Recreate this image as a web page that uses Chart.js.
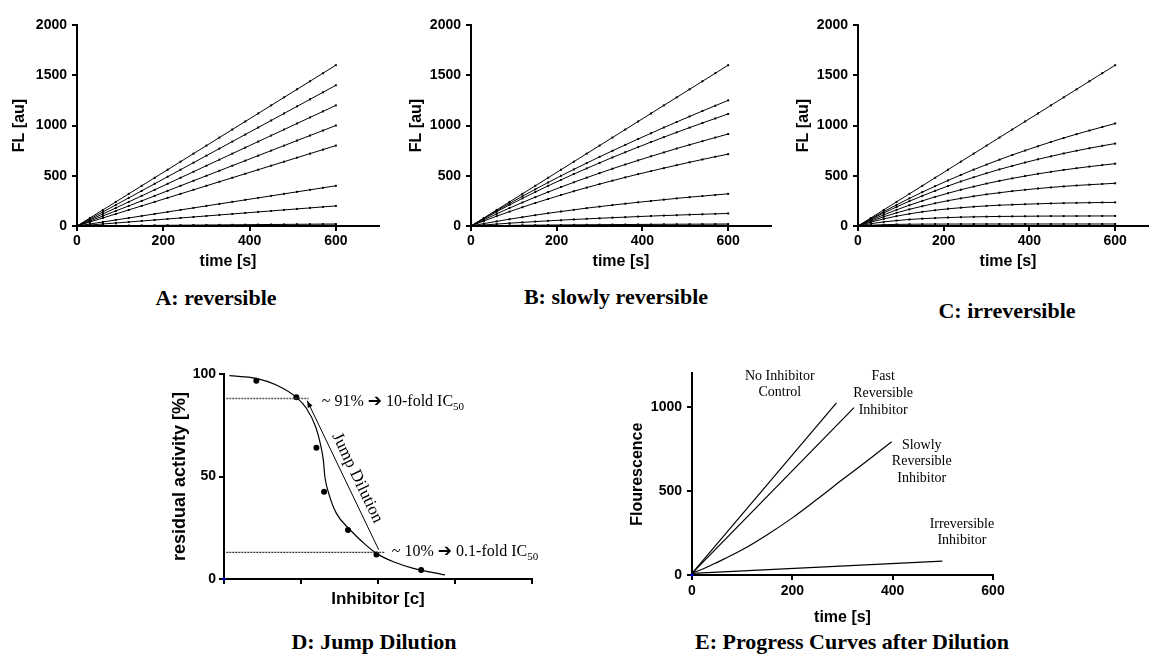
<!DOCTYPE html>
<html><head><meta charset="utf-8">
<script src="https://cdn.jsdelivr.net/npm/chart.js@4.4.1/dist/chart.umd.min.js"></script>
<style>
html,body{margin:0;padding:0;background:#fff;width:1149px;height:655px;overflow:hidden;position:relative}
canvas{position:absolute}
.cap{position:absolute;font:bold 22px "Liberation Serif","Times New Roman",serif;line-height:1.2;white-space:nowrap;transform:translateX(-50%);color:#000}
</style></head><body>
<canvas id="cA" width="385" height="272" style="left:0px;top:0px"></canvas>
<canvas id="cB" width="380" height="272" style="left:397px;top:0px"></canvas>
<canvas id="cC" width="380" height="272" style="left:784px;top:0px"></canvas>
<canvas id="cD" width="395" height="250" style="left:169px;top:360px"></canvas>
<canvas id="cE" width="380" height="268" style="left:628px;top:360px"></canvas>
<div class="cap" style="left:216px;top:285px">A: reversible</div>
<div class="cap" style="left:616px;top:284px">B: slowly reversible</div>
<div class="cap" style="left:1007px;top:298px">C: irreversible</div>
<div class="cap" style="left:374px;top:629px">D: Jump Dilution</div>
<div class="cap" style="left:852px;top:629px">E: Progress Curves after Dilution</div>
<script>
// ---------- DATA ----------
const timeS = [0,30,60,90,120,150,180,210,240,270,300,330,360,390,420,450,480,510,540,570,600];

// A: reversible
const A1 = [0,80,160,240,320,400,480,560,640,720,800,880,960,1040,1120,1200,1280,1360,1440,1520,1600];
const A2 = [0,70,140,210,280,350,420,490,560,630,700,770,840,910,980,1050,1120,1190,1260,1330,1400];
const A3 = [0,60,120,180,240,300,360,420,480,540,600,660,720,780,840,900,960,1020,1080,1140,1200];
const A4 = [0,50,100,150,200,250,300,350,400,450,500,550,600,650,700,750,800,850,900,950,1000];
const A5 = [0,40,80,120,160,200,240,280,320,360,400,440,480,520,560,600,640,680,720,760,800];
const A6 = [0,20,40,60,80,100,120,140,160,180,200,220,240,260,280,300,320,340,360,380,400];
const A7 = [0,10,20,30,40,50,60,70,80,90,100,110,120,130,140,150,160,170,180,190,200];
const A8 = [0,1,2,3,4,5,6,7,8,9,10,11,12,13,14,15,16,17,18,19,20];
const A9 = [0,0.4,0.8,1.2,1.6,2,2.4,2.8,3.2,3.6,4,4.4,4.8,5.2,5.6,6,6.4,6.8,7.2,7.6,8];

// B: slowly reversible
const B1 = [0,80,160,240,320,400,480,560,640,720,800,880,960,1040,1120,1200,1280,1360,1440,1520,1600];
const B2 = [0,77,152,225,296,365,433,499,563,626,688,748,807,866,923,980,1035,1090,1144,1197,1250];
const B3 = [0,72,142,210,275,338,400,459,517,573,628,682,734,785,835,884,932,979,1025,1070,1115];
const B4 = [0,62,121,179,234,287,338,387,435,481,526,570,612,653,693,732,771,808,844,880,915];
const B5 = [0,50,98,143,187,229,269,308,346,382,417,451,484,516,546,576,605,634,662,689,715];
const B6 = [0,24,46,68,88,108,127,144,161,178,193,208,222,236,249,262,275,287,298,309,320];
const B7 = [0,10,19,28,36,44,51,58,65,71,77,83,88,94,99,104,108,113,117,121,125];
const B8 = [0,2,4,5.5,7,8.3,9.5,10.6,11.6,12.5,13.3,14.1,14.8,15.5,16.2,16.9,17.6,18.2,18.8,19.4,20];
const B9 = [0,1,1.8,2.5,3,3.5,3.9,4.3,4.7,5,5.3,5.6,5.9,6.2,6.5,6.8,7.1,7.3,7.6,7.8,8];

// C: irreversible
const C1 = [0,80,160,240,320,400,480,560,640,720,800,880,960,1040,1120,1200,1280,1360,1440,1520,1600];
const C2 = [0,73,143,210,275,337,396,453,508,561,611,660,707,751,794,836,876,914,950,985,1020];
const C3 = [0,67,130,190,247,300,350,398,443,485,525,563,598,632,664,693,722,749,774,798,820];
const C4 = [0,58,111,161,207,250,290,326,361,392,422,449,474,497,519,539,558,575,591,606,620];
const C5 = [0,48,92,131,166,197,226,252,275,296,315,331,347,360,373,384,394,403,411,418,425];
const C6 = [0,39,71,98,121,141,157,171,182,192,200,207,212,217,221,225,228,230,232,234,235];
const C7 = [0,23,41,54,65,73,79,84,88,91,93,95,96,97,98,99,99,99.5,99.7,99.9,100];
const C8 = [0,8,13,16,17.5,18.5,19,19.3,19.5,19.7,19.8,19.9,19.9,20,20,20,20,20,20,20,20];
const C9 = [0,2,3.5,4.2,4.6,4.8,4.9,5,5,5,5,5,5,5,5,5,5,5,5,5,5];

const fluorTicks = [0,500,1000,1500,2000];
const timeTicks = [0,200,400,600];

// D: jump dilution
const dDoseX = [0.42,0.94,1.20,1.30,1.61,1.98,2.56];
const dDoseY = [96.7,88.6,64.0,42.6,23.9,12.0,4.4];
const dCurveX = [0.07,0.42,0.68,0.94,1.07,1.19,1.25,1.29,1.31,1.36,1.46,1.64,1.81,1.98,2.20,2.46,2.87];
const dCurveY = [99.2,97.9,94.6,88.6,83.3,74.3,66.2,58.0,49.9,41.8,32.0,23.9,17.7,12.5,8.4,5.2,2.0];
const dHiX = [0.03,1.10], dHiY = [88,88];
const dLoX = [0.03,2.09], dLoY = [13,13];
const dJumpX = [1.08,2.01], dJumpY = [87.0,14.2];
const dTicksX = [0,1,2,3,4];
const dTicksY = [0,50,100];

// E: progress curves after dilution
const eNoInhX = [0,288], eNoInhY = [10,1025];
const eFastX = [0,323], eFastY = [10,996];
const eSlowX = [0,25,50,100,150,200,250,300,350,398];
const eSlowY = [12,40,75,150,240,340,452,568,682,793];
const eIrrX = [0,499], eIrrY = [10,83];
const eTicksY = [0,500,1000];

// ---------- STYLE ----------
const BLACK = '#000';
const sans = '"Liberation Sans", Arial, sans-serif';
const serif = '"Liberation Serif", "Times New Roman", serif';
const tickFont = {family:sans, size:14, weight:'bold'};

function axis(o){
  return {
    type:'linear', min:o.min, max:o.max,
    ticks:{color:BLACK, font:tickFont, padding:o.pad, maxRotation:0, autoSkip:false,
           callback:(v)=> o.noLabels ? '' : String(v)},
    afterBuildTicks:(s)=>{ s.ticks = o.tickVals.map(v => ({value:v})); },
    grid:{display:true, drawOnChartArea:false, drawTicks:true, tickLength:5, color:BLACK, lineWidth:2},
    border:{display:true, color:BLACK, width:2},
    title:{display:!!o.title, text:o.title, color:BLACK,
           font:{family:sans, size:o.titleSize || 16, weight:'bold'},
           padding:o.titlePad || {top:0,bottom:0}},
    afterFit:(s)=>{ if(o.w!=null) s.width = o.w; if(o.h!=null) s.height = o.h; }
  };
}

function xy(xs, ys){ return xs.map((x,i)=>({x:x, y:ys[i]})); }

function kinetic(arrs, smooth){
  return arrs.map(a => ({
    data: xy(timeS, a), borderColor:BLACK, borderWidth:1,
    pointRadius:1.4, pointStyle:'rect', pointBackgroundColor:BLACK, pointBorderWidth:0,
    tension: smooth ? 0.4 : 0, cubicInterpolationMode: smooth ? 'monotone' : 'default', clip:4
  }));
}

function baseOpts(padding, scales){
  return {responsive:false, animation:false, devicePixelRatio:1, events:[],
    layout:{padding:padding},
    plugins:{legend:{display:false}, tooltip:{enabled:false}, title:{display:false}},
    scales:scales};
}

function kineticChart(id, arrs, smooth, yW){
  new Chart(document.getElementById(id), {
    type:'line',
    data:{datasets: kinetic(arrs, smooth)},
    options: baseOpts({top:25, right:6, left:0, bottom:0}, {
      x: axis({min:0, max:700, tickVals:timeTicks, pad:2, h:46, title:'time [s]', titlePad:{top:0,bottom:1}}),
      y: axis({min:0, max:2000, tickVals:fluorTicks, pad:5, w:yW, title:'FL [au]', titlePad:{top:10,bottom:0}})
    })
  });
}

kineticChart('cA', [A1,A2,A3,A4,A5,A6,A7,A8,A9], false, 77);
kineticChart('cB', [B1,B2,B3,B4,B5,B6,B7,B8,B9], true, 74);
kineticChart('cC', [C1,C2,C3,C4,C5,C6,C7,C8,C9], true, 74);

// ---------- D ----------
const dNotes = [
  {x:1.27, y:84.4, parts:[{t:'~ 91% '},{t:'\u2794',arrow:true},{t:' 10-fold IC'},{t:'50',sub:true}]},
  {x:2.18, y:11.2, parts:[{t:'~ 10% '},{t:'\u2794',arrow:true},{t:' 0.1-fold IC'},{t:'50',sub:true}]}
];
const dRotLabel = {x:1.73, y:49.3, text:'Jump Dilution'};

const dPlugin = {
  id:'dNotes',
  afterDatasetsDraw(chart){
    const {ctx, scales:{x,y}} = chart;
    ctx.save();
    const x0 = x.getPixelForValue(dJumpX[0]), y0 = y.getPixelForValue(dJumpY[0]);
    const x1 = x.getPixelForValue(dJumpX[1]), y1 = y.getPixelForValue(dJumpY[1]);
    const ang = Math.atan2(y0-y1, x0-x1);
    const L = 7, W = 2.6;
    ctx.fillStyle = BLACK;
    ctx.beginPath();
    ctx.moveTo(x0, y0);
    ctx.lineTo(x0 - L*Math.cos(ang) + W*Math.sin(ang), y0 - L*Math.sin(ang) - W*Math.cos(ang));
    ctx.lineTo(x0 - L*Math.cos(ang) - W*Math.sin(ang), y0 - L*Math.sin(ang) + W*Math.cos(ang));
    ctx.closePath(); ctx.fill();

    ctx.textBaseline = 'alphabetic'; ctx.textAlign = 'left';
    dNotes.forEach(n => {
      let px = x.getPixelForValue(n.x); const py = y.getPixelForValue(n.y);
      n.parts.forEach(p => {
        if (p.arrow) ctx.font = 'bold 17px "DejaVu Sans", sans-serif';
        else ctx.font = (p.sub ? 11 : 16) + 'px ' + serif;
        ctx.fillText(p.t, px, py + (p.sub ? 4 : 0));
        px += ctx.measureText(p.t).width;
      });
    });

    const rx = x.getPixelForValue(dRotLabel.x), ry = y.getPixelForValue(dRotLabel.y);
    const rot = Math.atan2(y1-y0, x1-x0);
    ctx.translate(rx, ry); ctx.rotate(rot);
    ctx.font = '17px ' + serif; ctx.textAlign = 'center'; ctx.textBaseline = 'middle';
    ctx.fillText(dRotLabel.text, 0, 0);
    ctx.restore();
  }
};

new Chart(document.getElementById('cD'), {
  type:'line',
  data:{datasets:[
    {data:xy(dCurveX, dCurveY), borderColor:BLACK, borderWidth:1.2, pointRadius:0, cubicInterpolationMode:'monotone', clip:6},
    {data:xy(dHiX, dHiY), borderColor:'#555', borderWidth:1.5, borderDash:[2,1], pointRadius:0, clip:6},
    {data:xy(dLoX, dLoY), borderColor:'#333', borderWidth:1.2, borderDash:[2,1], pointRadius:0, clip:6},
    {data:xy(dJumpX, dJumpY), borderColor:BLACK, borderWidth:1, pointRadius:0, clip:6},
    {data:xy(dDoseX, dDoseY), showLine:false, pointRadius:3, pointBackgroundColor:BLACK, pointBorderWidth:0, clip:6},
    {data:[{x:0,y:0}], showLine:false, pointRadius:1.5, pointBackgroundColor:'#0000ff', pointBorderWidth:0, clip:false}
  ]},
  options: baseOpts({top:14, right:32, left:0, bottom:0}, {
    x: axis({min:0, max:4, tickVals:dTicksX, pad:0, h:31, noLabels:true, title:'Inhibitor [c]', titleSize:17, titlePad:{top:0,bottom:0}}),
    y: axis({min:0, max:100, tickVals:dTicksY, pad:3, w:55, title:'residual activity [%]', titleSize:18, titlePad:{top:0,bottom:0}})
  }),
  plugins:[dPlugin]
});

// ---------- E ----------
const eNotes = [
  {x:175, y:1185, t:'No Inhibitor'}, {x:175, y:1085, t:'Control'},
  {x:381, y:1185, t:'Fast'}, {x:381, y:1082, t:'Reversible'}, {x:381, y:978, t:'Inhibitor'},
  {x:458, y:774, t:'Slowly'}, {x:458, y:674, t:'Reversible'}, {x:458, y:576, t:'Inhibitor'},
  {x:538, y:304, t:'Irreversible'}, {x:538, y:208, t:'Inhibitor'}
];
const ePlugin = {
  id:'eNotes',
  afterDatasetsDraw(chart){
    const {ctx, scales:{x,y}} = chart;
    ctx.save();
    ctx.fillStyle = BLACK; ctx.font = '14px ' + serif;
    ctx.textAlign = 'center'; ctx.textBaseline = 'middle';
    eNotes.forEach(n => ctx.fillText(n.t, x.getPixelForValue(n.x), y.getPixelForValue(n.y)));
    ctx.restore();
  }
};

new Chart(document.getElementById('cE'), {
  type:'line',
  data:{datasets:[
    {data:xy(eNoInhX, eNoInhY), borderColor:BLACK, borderWidth:1.2, pointRadius:0},
    {data:xy(eFastX, eFastY), borderColor:BLACK, borderWidth:1.2, pointRadius:0},
    {data:xy(eSlowX, eSlowY), borderColor:BLACK, borderWidth:1.2, pointRadius:0, cubicInterpolationMode:'monotone'},
    {data:xy(eIrrX, eIrrY), borderColor:BLACK, borderWidth:1.2, pointRadius:0},
    {data:[{x:0,y:0}], showLine:false, pointRadius:1.5, pointBackgroundColor:'#0000ff', pointBorderWidth:0, clip:false}
  ]},
  options: baseOpts({top:13, right:15, left:0, bottom:0}, {
    x: axis({min:0, max:600, tickVals:timeTicks, pad:3, h:53, title:'time [s]', titlePad:{top:0,bottom:1}}),
    y: axis({min:0, max:1200, tickVals:eTicksY, pad:5, w:64, title:'Flourescence', titlePad:{top:0,bottom:0}})
  }),
  plugins:[ePlugin]
});
</script>
</body></html>
